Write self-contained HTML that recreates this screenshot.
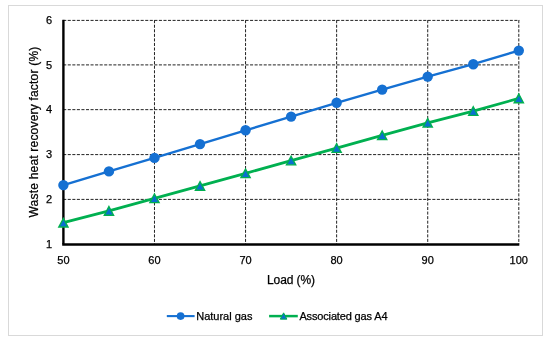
<!DOCTYPE html>
<html><head><meta charset="utf-8"><style>
html,body{margin:0;padding:0;background:#fff;}
svg{display:block;will-change:transform;}
text{font-family:"Liberation Sans", sans-serif;fill:#000;stroke:#000;stroke-width:0.25px;}
</style></head><body>
<svg width="550" height="342" viewBox="0 0 550 342">
<rect x="8.5" y="5.5" width="534" height="330" fill="#fff" stroke="#d9d9d9" stroke-width="1"/>
<line x1="63.2" y1="199.40" x2="519.30" y2="199.40" stroke="#222" stroke-width="1" stroke-dasharray="3.05 1.507"/>
<line x1="63.2" y1="154.60" x2="519.30" y2="154.60" stroke="#222" stroke-width="1" stroke-dasharray="3.05 1.507"/>
<line x1="63.2" y1="109.65" x2="519.30" y2="109.65" stroke="#222" stroke-width="1" stroke-dasharray="3.05 1.507"/>
<line x1="63.2" y1="64.90" x2="519.30" y2="64.90" stroke="#222" stroke-width="1" stroke-dasharray="3.05 1.507"/>
<line x1="63.2" y1="20.40" x2="519.30" y2="20.40" stroke="#222" stroke-width="1" stroke-dasharray="3.05 1.507"/>
<line x1="154.48" y1="20.15" x2="154.48" y2="244.30" stroke="#222" stroke-width="1" stroke-dasharray="3.05 1.507"/>
<line x1="245.56" y1="20.15" x2="245.56" y2="244.30" stroke="#222" stroke-width="1" stroke-dasharray="3.05 1.507"/>
<line x1="336.64" y1="20.15" x2="336.64" y2="244.30" stroke="#222" stroke-width="1" stroke-dasharray="3.05 1.507"/>
<line x1="427.72" y1="20.15" x2="427.72" y2="244.30" stroke="#222" stroke-width="1" stroke-dasharray="3.05 1.507"/>
<line x1="518.80" y1="20.15" x2="518.80" y2="244.30" stroke="#222" stroke-width="1" stroke-dasharray="3.05 1.507"/>
<line x1="63.40" y1="19.80" x2="63.40" y2="244.30" stroke="#000" stroke-width="2.4"/>
<line x1="62.20" y1="244.45" x2="519.30" y2="244.45" stroke="#000" stroke-width="2.4"/>
<text x="52" y="247.95" text-anchor="end" font-size="11">1</text>
<text x="52" y="203.05" text-anchor="end" font-size="11">2</text>
<text x="52" y="158.25" text-anchor="end" font-size="11">3</text>
<text x="52" y="113.30" text-anchor="end" font-size="11">4</text>
<text x="52" y="68.55" text-anchor="end" font-size="11">5</text>
<text x="52" y="24.05" text-anchor="end" font-size="11">6</text>
<text x="63.40" y="263.9" text-anchor="middle" font-size="11">50</text>
<text x="154.48" y="263.9" text-anchor="middle" font-size="11">60</text>
<text x="245.56" y="263.9" text-anchor="middle" font-size="11">70</text>
<text x="336.64" y="263.9" text-anchor="middle" font-size="11">80</text>
<text x="427.72" y="263.9" text-anchor="middle" font-size="11">90</text>
<text x="518.80" y="263.9" text-anchor="middle" font-size="11">100</text>
<text x="291" y="283.9" text-anchor="middle" font-size="12" letter-spacing="-0.1">Load (%)</text>
<text transform="translate(37.8,132) rotate(-90)" x="0" y="0" text-anchor="middle" font-size="12" letter-spacing="0.2">Waste heat recovery factor (%)</text>
<polyline points="63.40,185.10 108.94,171.40 154.48,157.90 200.02,144.10 245.56,130.30 291.10,116.60 336.64,102.80 382.18,89.60 427.72,76.60 473.26,64.20 518.80,50.60" fill="none" stroke="#1570d2" stroke-width="2.4" stroke-linejoin="round"/>
<polyline points="63.40,222.70 108.94,210.90 154.48,198.30 200.02,185.95 245.56,173.30 291.10,160.55 336.64,148.05 382.18,135.30 427.72,122.80 473.26,111.10 518.80,98.40" fill="none" stroke="#00b050" stroke-width="2.8" stroke-linejoin="round"/>
<circle cx="63.40" cy="185.10" r="5.2" fill="#1570d2"/>
<circle cx="108.94" cy="171.40" r="5.2" fill="#1570d2"/>
<circle cx="154.48" cy="157.90" r="5.2" fill="#1570d2"/>
<circle cx="200.02" cy="144.10" r="5.2" fill="#1570d2"/>
<circle cx="245.56" cy="130.30" r="5.2" fill="#1570d2"/>
<circle cx="291.10" cy="116.60" r="5.2" fill="#1570d2"/>
<circle cx="336.64" cy="102.80" r="5.2" fill="#1570d2"/>
<circle cx="382.18" cy="89.60" r="5.2" fill="#1570d2"/>
<circle cx="427.72" cy="76.60" r="5.2" fill="#1570d2"/>
<circle cx="473.26" cy="64.20" r="5.2" fill="#1570d2"/>
<circle cx="518.80" cy="50.60" r="5.2" fill="#1570d2"/>
<polygon points="63.40,218.40 68.00,227.00 58.80,227.00" fill="#0a6fd0" stroke="#00b050" stroke-width="1.4" stroke-linejoin="miter"/>
<polygon points="108.94,206.60 113.54,215.20 104.34,215.20" fill="#0a6fd0" stroke="#00b050" stroke-width="1.4" stroke-linejoin="miter"/>
<polygon points="154.48,194.00 159.08,202.60 149.88,202.60" fill="#0a6fd0" stroke="#00b050" stroke-width="1.4" stroke-linejoin="miter"/>
<polygon points="200.02,181.65 204.62,190.25 195.42,190.25" fill="#0a6fd0" stroke="#00b050" stroke-width="1.4" stroke-linejoin="miter"/>
<polygon points="245.56,169.00 250.16,177.60 240.96,177.60" fill="#0a6fd0" stroke="#00b050" stroke-width="1.4" stroke-linejoin="miter"/>
<polygon points="291.10,156.25 295.70,164.85 286.50,164.85" fill="#0a6fd0" stroke="#00b050" stroke-width="1.4" stroke-linejoin="miter"/>
<polygon points="336.64,143.75 341.24,152.35 332.04,152.35" fill="#0a6fd0" stroke="#00b050" stroke-width="1.4" stroke-linejoin="miter"/>
<polygon points="382.18,131.00 386.78,139.60 377.58,139.60" fill="#0a6fd0" stroke="#00b050" stroke-width="1.4" stroke-linejoin="miter"/>
<polygon points="427.72,118.50 432.32,127.10 423.12,127.10" fill="#0a6fd0" stroke="#00b050" stroke-width="1.4" stroke-linejoin="miter"/>
<polygon points="473.26,106.80 477.86,115.40 468.66,115.40" fill="#0a6fd0" stroke="#00b050" stroke-width="1.4" stroke-linejoin="miter"/>
<polygon points="518.80,94.10 523.40,102.70 514.20,102.70" fill="#0a6fd0" stroke="#00b050" stroke-width="1.4" stroke-linejoin="miter"/>
<line x1="166.8" y1="316.1" x2="194.6" y2="316.1" stroke="#1570d2" stroke-width="2.1"/>
<circle cx="180.6" cy="316.1" r="3.85" fill="#1570d2"/>
<text x="196.2" y="319.5" font-size="11">Natural gas</text>
<line x1="269.1" y1="316.1" x2="297.8" y2="316.1" stroke="#00b050" stroke-width="2.5"/>
<polygon points="283.60,312.85 286.90,319.15 280.30,319.15" fill="#0a6fd0" stroke="#00b050" stroke-width="1.0"/>
<text x="299.4" y="319.5" font-size="11" letter-spacing="-0.15">Associated gas A4</text>
</svg>
</body></html>
